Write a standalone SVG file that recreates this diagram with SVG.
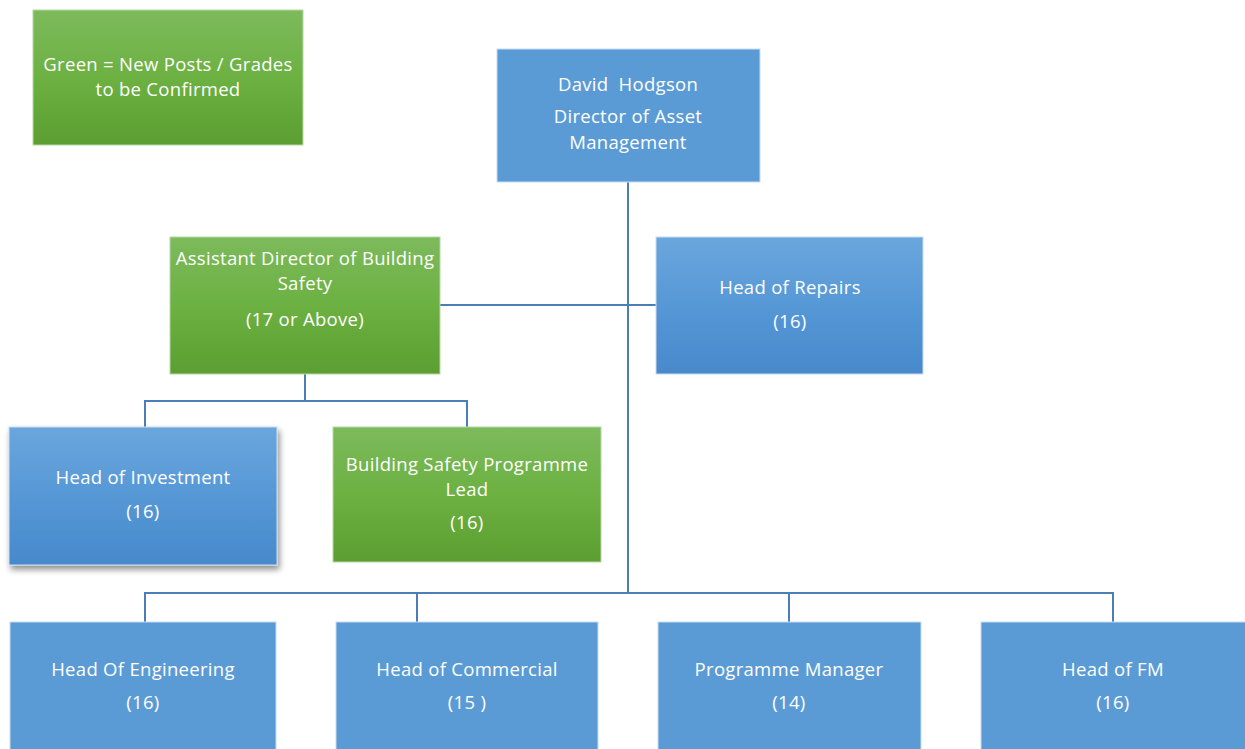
<svg xmlns="http://www.w3.org/2000/svg" width="1245" height="749" viewBox="0 0 1245 749">
  <defs>
    <linearGradient id="gGreen" x1="0" y1="0" x2="0" y2="1">
      <stop offset="0" stop-color="#7dba5c"/>
      <stop offset="0.5" stop-color="#6cb142"/>
      <stop offset="1" stop-color="#5c9e31"/>
    </linearGradient>
    <linearGradient id="gBlue" x1="0" y1="0" x2="0" y2="1">
      <stop offset="0" stop-color="#6aa6dd"/>
      <stop offset="0.5" stop-color="#5698d6"/>
      <stop offset="1" stop-color="#4789cb"/>
    </linearGradient>
    <filter id="shadow" x="-10%" y="-10%" width="125%" height="130%">
      <feGaussianBlur in="SourceAlpha" stdDeviation="3"/>
      <feOffset dx="2" dy="4" result="b"/>
      <feComponentTransfer><feFuncA type="linear" slope="0.45"/></feComponentTransfer>
      <feMerge><feMergeNode/><feMergeNode in="SourceGraphic"/></feMerge>
    </filter>
  </defs>
  <style>
    .flat { fill: #5b9bd5; stroke: #c9dcf0; stroke-width: 1; }
    .blue { fill: url(#gBlue); stroke: #c9dcf0; stroke-width: 1; }
    .green { fill: url(#gGreen); stroke: #b7d7a4; stroke-width: 1; }
    text { font-family: "Open Sans", "Liberation Sans", sans-serif; font-size: 18.5px; fill: #ffffff; text-anchor: middle; letter-spacing: 0.3px; }
    .conn { fill: none; stroke: #4a7eb5; stroke-width: 2; }
  </style>
  <rect width="1245" height="749" fill="#ffffff"/>

  <!-- reporting lines -->
  <g id="connectors">
    <line class="conn" x1="628" y1="182" x2="628" y2="593"/>
    <line class="conn" x1="440" y1="305" x2="656" y2="305"/>
    <polyline class="conn" points="305,374 305,401"/>
    <polyline class="conn" points="145,427 145,401 467,401 467,427"/>
    <polyline class="conn" points="145,622 145,593 1113,593 1113,622"/>
    <line class="conn" x1="417" y1="593" x2="417" y2="622"/>
    <line class="conn" x1="789" y1="593" x2="789" y2="622"/>
  </g>

  <!-- colour key -->
  <g id="legend">
    <rect class="green" x="33" y="10" width="270" height="135"/>
    <text x="168" y="71">Green = New Posts / Grades</text>
    <text x="168" y="96">to be Confirmed</text>
  </g>

  <g id="director">
    <rect class="flat" x="497" y="49" width="263" height="133"/>
    <text x="628" y="91" xml:space="preserve">David  Hodgson</text>
    <text x="628" y="123">Director of Asset</text>
    <text x="628" y="149">Management</text>
  </g>

  <g id="assistant-director">
    <rect class="green" x="170" y="237" width="270" height="137"/>
    <text x="305" y="265">Assistant Director of Building</text>
    <text x="305" y="290">Safety</text>
    <text x="305" y="326">(17 or Above)</text>
  </g>

  <g id="head-repairs">
    <rect class="blue" x="656" y="237" width="267" height="137"/>
    <text x="790" y="294">Head of Repairs</text>
    <text x="790" y="328">(16)</text>
  </g>

  <g id="head-investment">
    <rect class="blue" x="9" y="427" width="268" height="138" filter="url(#shadow)"/>
    <text x="143" y="484">Head of Investment</text>
    <text x="143" y="518">(16)</text>
  </g>

  <g id="bs-programme-lead">
    <rect class="green" x="333" y="427" width="268" height="135"/>
    <text x="467" y="471">Building Safety Programme</text>
    <text x="467" y="496">Lead</text>
    <text x="467" y="529">(16)</text>
  </g>

  <g id="head-engineering">
    <rect class="flat" x="10" y="622" width="266" height="140"/>
    <text x="143" y="676">Head Of Engineering</text>
    <text x="143" y="709">(16)</text>
  </g>

  <g id="head-commercial">
    <rect class="flat" x="336" y="622" width="262" height="140"/>
    <text x="467" y="676">Head of Commercial</text>
    <text x="467" y="709" xml:space="preserve">(15 )</text>
  </g>

  <g id="programme-manager">
    <rect class="flat" x="658" y="622" width="263" height="140"/>
    <text x="789" y="676">Programme Manager</text>
    <text x="789" y="709">(14)</text>
  </g>

  <g id="head-fm">
    <rect class="flat" x="981" y="622" width="270" height="140"/>
    <text x="1113" y="676">Head of FM</text>
    <text x="1113" y="709">(16)</text>
  </g>
</svg>
